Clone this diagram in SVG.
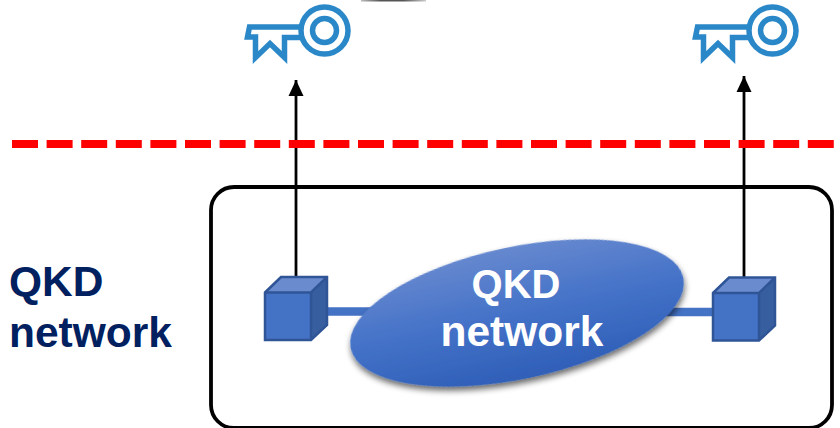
<svg xmlns="http://www.w3.org/2000/svg" width="840" height="428" viewBox="0 0 840 428">
<defs>
<linearGradient id="eg" x1="0" y1="0" x2="0" y2="1"><stop offset="0" stop-color="#6688cf"/><stop offset="0.5" stop-color="#4472c8"/><stop offset="1" stop-color="#2f5fb8"/></linearGradient>
<linearGradient id="sl" x1="0" y1="0" x2="1" y2="0"><stop offset="0" stop-color="#bbb"/><stop offset="0.3" stop-color="#555"/><stop offset="0.65" stop-color="#555"/><stop offset="1" stop-color="#ccc"/></linearGradient>
<filter id="sh" x="-10%" y="-10%" width="120%" height="130%"><feGaussianBlur in="SourceAlpha" stdDeviation="3"/><feOffset dy="4"/><feComponentTransfer><feFuncA type="linear" slope="0.6"/></feComponentTransfer><feMerge><feMergeNode/><feMergeNode in="SourceGraphic"/></feMerge></filter>
<marker id="ah" markerUnits="userSpaceOnUse" markerWidth="16" markerHeight="16" refX="16" refY="8" orient="auto"><path d="M0 0.500L16 8L0 15.500z" fill="#000"/></marker>
<g id="key" fill="none" stroke="#2a88c9" stroke-width="5.500">
<circle cx="324.500" cy="30.500" r="23.500"/><circle cx="324.500" cy="30.500" r="12"/>
<path d="M301 27H249.500L247.500 37H255.500V57.500L270 43.500L284.500 57.500V37.500H301"/>
</g>
<g id="cube">
<path d="M265 292.500L281 277H327V325L311 340H265z" fill="#4472c4"/>
<path d="M265 292.500L281 277H327L311 292.500z" fill="#6a8cce"/>
<path d="M311 292.500L327 277V325L311 340z" fill="#375e9f"/>
<path d="M265 292.500L281 277H327V325L311 340H265zM265 292.500H311L327 277M311 292.500V340" fill="none" stroke="#2f5597" stroke-width="2.500"/>
</g>
</defs>
<style>
.lbl{font-family:"Liberation Sans",Arial,sans-serif;font-weight:700;font-size:42.500px}
</style>
<rect x="361" y="0" width="65" height="1.500" fill="url(#sl)"/>
<g id="connectors">
<path d="M327 311.500H380M660 312H713" stroke="#4472c4" stroke-width="8.500" fill="none"/>
<path d="M296 277V80" stroke="#000" stroke-width="2.800" marker-end="url(#ah)" fill="none"/>
<path d="M744 277V76" stroke="#000" stroke-width="2.800" marker-end="url(#ah)" fill="none"/>
</g>
<g id="boundary"><path d="M12 144H834" stroke="#f00" stroke-width="8" stroke-dasharray="26 8.600" fill="none"/></g>
<g id="container"><rect x="211" y="187" width="621" height="241" rx="23" fill="none" stroke="#000" stroke-width="3.800"/></g>
<g id="key-left"><use href="#key"/></g>
<g id="key-right"><use href="#key" x="448"/></g>
<g id="node-left"><use href="#cube"/></g>
<g id="node-right"><use href="#cube" x="448" y="0.500"/></g>
<g id="qkd-cloud">
<ellipse cx="517" cy="313" rx="170" ry="66" transform="rotate(-12 517 313)" fill="url(#eg)" filter="url(#sh)"/>
<text class="lbl" x="516" y="298" text-anchor="middle" fill="#fff" style="font-size:40px">QKD</text>
<text class="lbl" x="522" y="346" text-anchor="middle" fill="#fff">network</text>
</g>
<g id="label">
<text class="lbl" x="9" y="296" fill="#002060">QKD</text>
<text class="lbl" x="9" y="347" fill="#002060">network</text>
</g>
</svg>
